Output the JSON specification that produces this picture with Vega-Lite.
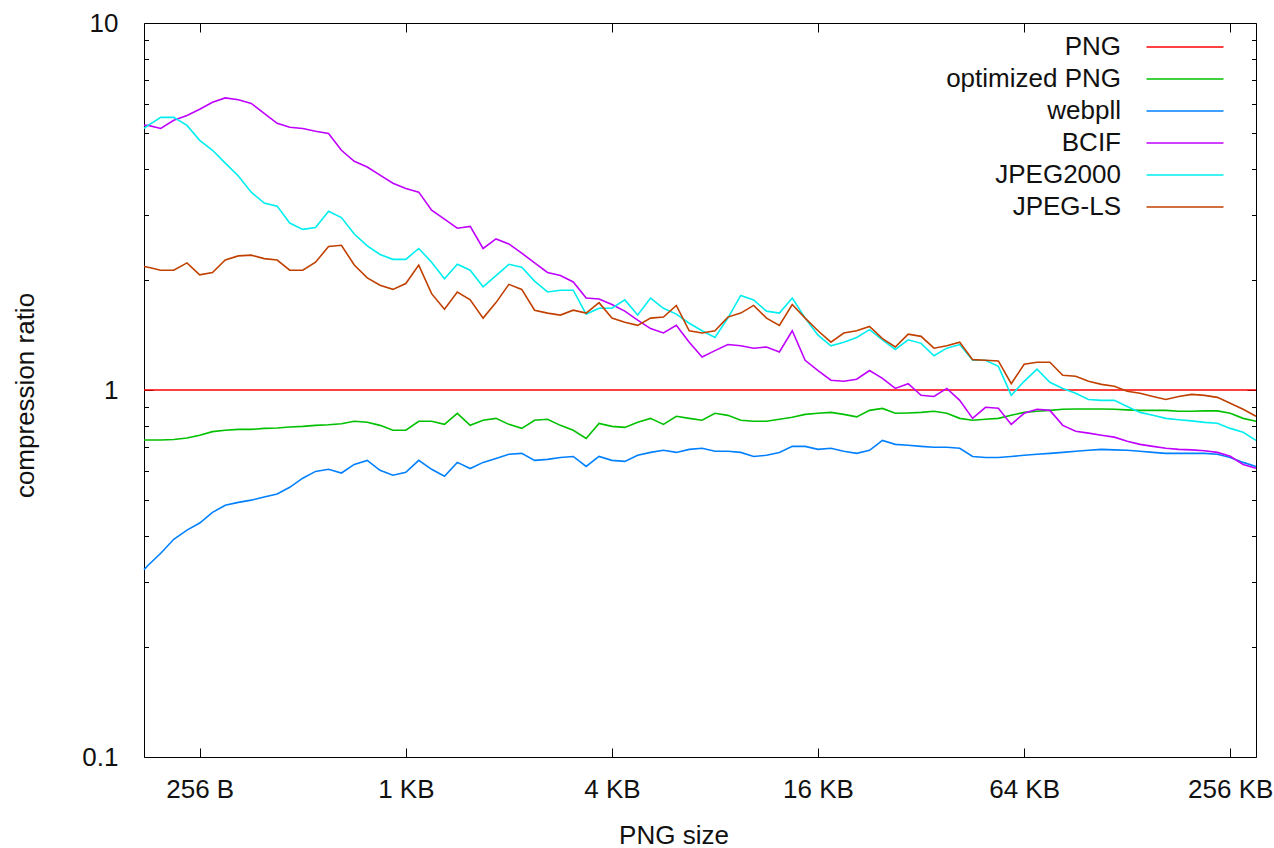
{
"$schema": "https://vega.github.io/schema/vega-lite/v6.json",
"width": 1112, "height": 734,
"autosize": {"type": "none"},
"padding": {"left": 144, "top": 23, "right": 18, "bottom": 91},
"background": "white",
"config": {
  "font": "Liberation Sans",
  "view": {"stroke": "#000", "strokeWidth": 1},
  "axis": {"grid": false, "domain": false, "tickColor": "#000", "tickWidth": 1, "labelFont": "Liberation Sans", "labelFontSize": 26, "labelColor": "#111", "titleFont": "Liberation Sans", "titleFontSize": 26, "titleFontWeight": "normal", "titleColor": "#111", "labelFlush": false, "labelOverlap": false}
},
"datasets": {
"pts": [
{"series":"PNG","size":176,"ratio":1},{"series":"PNG","size":311744,"ratio":1},
{"series":"optimized PNG","size":176,"ratio":0.731},{"series":"optimized PNG","size":181,"ratio":0.731},{"series":"optimized PNG","size":197,"ratio":0.731},{"series":"optimized PNG","size":215,"ratio":0.733},{"series":"optimized PNG","size":235,"ratio":0.740},
{"series":"optimized PNG","size":256,"ratio":0.753},{"series":"optimized PNG","size":279,"ratio":0.770},{"series":"optimized PNG","size":304,"ratio":0.777},{"series":"optimized PNG","size":332,"ratio":0.781},{"series":"optimized PNG","size":362,"ratio":0.781},{"series":"optimized PNG","size":395,"ratio":0.786},{"series":"optimized PNG","size":431,"ratio":0.788},{"series":"optimized PNG","size":469,"ratio":0.793},
{"series":"optimized PNG","size":512,"ratio":0.796},{"series":"optimized PNG","size":558,"ratio":0.801},{"series":"optimized PNG","size":609,"ratio":0.804},{"series":"optimized PNG","size":664,"ratio":0.809},{"series":"optimized PNG","size":724,"ratio":0.822},{"series":"optimized PNG","size":790,"ratio":0.817},{"series":"optimized PNG","size":861,"ratio":0.801},{"series":"optimized PNG","size":939,"ratio":0.777},
{"series":"optimized PNG","size":1024,"ratio":0.777},{"series":"optimized PNG","size":1117,"ratio":0.822},{"series":"optimized PNG","size":1218,"ratio":0.822},{"series":"optimized PNG","size":1328,"ratio":0.806},{"series":"optimized PNG","size":1448,"ratio":0.864},{"series":"optimized PNG","size":1579,"ratio":0.801},{"series":"optimized PNG","size":1722,"ratio":0.827},{"series":"optimized PNG","size":1878,"ratio":0.837},
{"series":"optimized PNG","size":2048,"ratio":0.806},{"series":"optimized PNG","size":2233,"ratio":0.786},{"series":"optimized PNG","size":2435,"ratio":0.827},{"series":"optimized PNG","size":2656,"ratio":0.832},{"series":"optimized PNG","size":2896,"ratio":0.801},{"series":"optimized PNG","size":3158,"ratio":0.777},{"series":"optimized PNG","size":3444,"ratio":0.738},{"series":"optimized PNG","size":3756,"ratio":0.811},
{"series":"optimized PNG","size":4096,"ratio":0.796},{"series":"optimized PNG","size":4467,"ratio":0.791},{"series":"optimized PNG","size":4871,"ratio":0.817},{"series":"optimized PNG","size":5312,"ratio":0.837},{"series":"optimized PNG","size":5793,"ratio":0.806},{"series":"optimized PNG","size":6317,"ratio":0.848},{"series":"optimized PNG","size":6889,"ratio":0.837},{"series":"optimized PNG","size":7512,"ratio":0.827},
{"series":"optimized PNG","size":8192,"ratio":0.864},{"series":"optimized PNG","size":8933,"ratio":0.853},{"series":"optimized PNG","size":9742,"ratio":0.827},{"series":"optimized PNG","size":10624,"ratio":0.822},{"series":"optimized PNG","size":11585,"ratio":0.822},{"series":"optimized PNG","size":12634,"ratio":0.832},{"series":"optimized PNG","size":13777,"ratio":0.843},{"series":"optimized PNG","size":15024,"ratio":0.858},
{"series":"optimized PNG","size":16384,"ratio":0.864},{"series":"optimized PNG","size":17867,"ratio":0.869},{"series":"optimized PNG","size":19484,"ratio":0.858},{"series":"optimized PNG","size":21247,"ratio":0.845},{"series":"optimized PNG","size":23170,"ratio":0.880},{"series":"optimized PNG","size":25268,"ratio":0.891},{"series":"optimized PNG","size":27554,"ratio":0.864},{"series":"optimized PNG","size":30048,"ratio":0.866},
{"series":"optimized PNG","size":32768,"ratio":0.869},{"series":"optimized PNG","size":35734,"ratio":0.875},{"series":"optimized PNG","size":38968,"ratio":0.864},{"series":"optimized PNG","size":42495,"ratio":0.837},{"series":"optimized PNG","size":46341,"ratio":0.827},{"series":"optimized PNG","size":50535,"ratio":0.832},{"series":"optimized PNG","size":55109,"ratio":0.837},{"series":"optimized PNG","size":60097,"ratio":0.853},
{"series":"optimized PNG","size":65536,"ratio":0.869},{"series":"optimized PNG","size":71468,"ratio":0.875},{"series":"optimized PNG","size":77936,"ratio":0.880},{"series":"optimized PNG","size":84990,"ratio":0.886},{"series":"optimized PNG","size":92682,"ratio":0.888},{"series":"optimized PNG","size":101070,"ratio":0.888},{"series":"optimized PNG","size":110218,"ratio":0.888},{"series":"optimized PNG","size":120194,"ratio":0.886},
{"series":"optimized PNG","size":131072,"ratio":0.883},{"series":"optimized PNG","size":142935,"ratio":0.880},{"series":"optimized PNG","size":155872,"ratio":0.880},{"series":"optimized PNG","size":169979,"ratio":0.880},{"series":"optimized PNG","size":185364,"ratio":0.875},{"series":"optimized PNG","size":202141,"ratio":0.875},{"series":"optimized PNG","size":220436,"ratio":0.877},{"series":"optimized PNG","size":240387,"ratio":0.877},
{"series":"optimized PNG","size":262144,"ratio":0.864},{"series":"optimized PNG","size":285870,"ratio":0.837},{"series":"optimized PNG","size":311744,"ratio":0.822},
{"series":"webpll","size":176,"ratio":0.324},{"series":"webpll","size":181,"ratio":0.333},{"series":"webpll","size":197,"ratio":0.359},{"series":"webpll","size":215,"ratio":0.392},{"series":"webpll","size":235,"ratio":0.415},
{"series":"webpll","size":256,"ratio":0.434},{"series":"webpll","size":279,"ratio":0.464},{"series":"webpll","size":304,"ratio":0.485},{"series":"webpll","size":332,"ratio":0.494},{"series":"webpll","size":362,"ratio":0.501},{"series":"webpll","size":395,"ratio":0.511},{"series":"webpll","size":431,"ratio":0.521},{"series":"webpll","size":469,"ratio":0.543},
{"series":"webpll","size":512,"ratio":0.575},{"series":"webpll","size":558,"ratio":0.600},{"series":"webpll","size":609,"ratio":0.608},{"series":"webpll","size":664,"ratio":0.594},{"series":"webpll","size":724,"ratio":0.627},{"series":"webpll","size":790,"ratio":0.643},{"series":"webpll","size":861,"ratio":0.604},{"series":"webpll","size":939,"ratio":0.586},
{"series":"webpll","size":1024,"ratio":0.597},{"series":"webpll","size":1117,"ratio":0.643},{"series":"webpll","size":1218,"ratio":0.608},{"series":"webpll","size":1328,"ratio":0.582},{"series":"webpll","size":1448,"ratio":0.635},{"series":"webpll","size":1579,"ratio":0.611},{"series":"webpll","size":1722,"ratio":0.635},{"series":"webpll","size":1878,"ratio":0.651},
{"series":"webpll","size":2048,"ratio":0.668},{"series":"webpll","size":2233,"ratio":0.672},{"series":"webpll","size":2435,"ratio":0.643},{"series":"webpll","size":2656,"ratio":0.647},{"series":"webpll","size":2896,"ratio":0.655},{"series":"webpll","size":3158,"ratio":0.659},{"series":"webpll","size":3444,"ratio":0.619},{"series":"webpll","size":3756,"ratio":0.659},
{"series":"webpll","size":4096,"ratio":0.643},{"series":"webpll","size":4467,"ratio":0.639},{"series":"webpll","size":4871,"ratio":0.664},{"series":"webpll","size":5312,"ratio":0.676},{"series":"webpll","size":5793,"ratio":0.685},{"series":"webpll","size":6317,"ratio":0.676},{"series":"webpll","size":6889,"ratio":0.689},{"series":"webpll","size":7512,"ratio":0.694},
{"series":"webpll","size":8192,"ratio":0.681},{"series":"webpll","size":8933,"ratio":0.681},{"series":"webpll","size":9742,"ratio":0.676},{"series":"webpll","size":10624,"ratio":0.659},{"series":"webpll","size":11585,"ratio":0.664},{"series":"webpll","size":12634,"ratio":0.676},{"series":"webpll","size":13777,"ratio":0.702},{"series":"webpll","size":15024,"ratio":0.702},
{"series":"webpll","size":16384,"ratio":0.689},{"series":"webpll","size":17867,"ratio":0.694},{"series":"webpll","size":19484,"ratio":0.681},{"series":"webpll","size":21247,"ratio":0.672},{"series":"webpll","size":23170,"ratio":0.685},{"series":"webpll","size":25268,"ratio":0.729},{"series":"webpll","size":27554,"ratio":0.711},{"series":"webpll","size":30048,"ratio":0.707},
{"series":"webpll","size":32768,"ratio":0.702},{"series":"webpll","size":35734,"ratio":0.698},{"series":"webpll","size":38968,"ratio":0.698},{"series":"webpll","size":42495,"ratio":0.694},{"series":"webpll","size":46341,"ratio":0.659},{"series":"webpll","size":50535,"ratio":0.655},{"series":"webpll","size":55109,"ratio":0.655},{"series":"webpll","size":60097,"ratio":0.659},
{"series":"webpll","size":65536,"ratio":0.664},{"series":"webpll","size":71468,"ratio":0.668},{"series":"webpll","size":77936,"ratio":0.672},{"series":"webpll","size":84990,"ratio":0.676},{"series":"webpll","size":92682,"ratio":0.681},{"series":"webpll","size":101070,"ratio":0.685},{"series":"webpll","size":110218,"ratio":0.689},{"series":"webpll","size":120194,"ratio":0.687},
{"series":"webpll","size":131072,"ratio":0.685},{"series":"webpll","size":142935,"ratio":0.681},{"series":"webpll","size":155872,"ratio":0.676},{"series":"webpll","size":169979,"ratio":0.672},{"series":"webpll","size":185364,"ratio":0.672},{"series":"webpll","size":202141,"ratio":0.672},{"series":"webpll","size":220436,"ratio":0.672},{"series":"webpll","size":240387,"ratio":0.668},
{"series":"webpll","size":262144,"ratio":0.655},{"series":"webpll","size":285870,"ratio":0.635},{"series":"webpll","size":311744,"ratio":0.619},
{"series":"BCIF","size":176,"ratio":5.26},{"series":"BCIF","size":181,"ratio":5.26},{"series":"BCIF","size":197,"ratio":5.16},{"series":"BCIF","size":215,"ratio":5.43},{"series":"BCIF","size":235,"ratio":5.60},
{"series":"BCIF","size":256,"ratio":5.82},{"series":"BCIF","size":279,"ratio":6.08},{"series":"BCIF","size":304,"ratio":6.25},{"series":"BCIF","size":332,"ratio":6.18},{"series":"BCIF","size":362,"ratio":6.04},{"series":"BCIF","size":395,"ratio":5.67},{"series":"BCIF","size":431,"ratio":5.33},{"series":"BCIF","size":469,"ratio":5.20},
{"series":"BCIF","size":512,"ratio":5.16},{"series":"BCIF","size":558,"ratio":5.07},{"series":"BCIF","size":609,"ratio":5.00},{"series":"BCIF","size":664,"ratio":4.50},{"series":"BCIF","size":724,"ratio":4.20},{"series":"BCIF","size":790,"ratio":4.05},{"series":"BCIF","size":861,"ratio":3.85},{"series":"BCIF","size":939,"ratio":3.66},
{"series":"BCIF","size":1024,"ratio":3.54},{"series":"BCIF","size":1117,"ratio":3.46},{"series":"BCIF","size":1218,"ratio":3.09},{"series":"BCIF","size":1328,"ratio":2.92},{"series":"BCIF","size":1448,"ratio":2.76},{"series":"BCIF","size":1579,"ratio":2.79},{"series":"BCIF","size":1722,"ratio":2.43},{"series":"BCIF","size":1878,"ratio":2.58},
{"series":"BCIF","size":2048,"ratio":2.50},{"series":"BCIF","size":2233,"ratio":2.36},{"series":"BCIF","size":2435,"ratio":2.22},{"series":"BCIF","size":2656,"ratio":2.09},{"series":"BCIF","size":2896,"ratio":2.05},{"series":"BCIF","size":3158,"ratio":1.97},{"series":"BCIF","size":3444,"ratio":1.78},{"series":"BCIF","size":3756,"ratio":1.77},
{"series":"BCIF","size":4096,"ratio":1.71},{"series":"BCIF","size":4467,"ratio":1.64},{"series":"BCIF","size":4871,"ratio":1.55},{"series":"BCIF","size":5312,"ratio":1.47},{"series":"BCIF","size":5793,"ratio":1.43},{"series":"BCIF","size":6317,"ratio":1.50},{"series":"BCIF","size":6889,"ratio":1.35},{"series":"BCIF","size":7512,"ratio":1.23},
{"series":"BCIF","size":8192,"ratio":1.28},{"series":"BCIF","size":8933,"ratio":1.33},{"series":"BCIF","size":9742,"ratio":1.32},{"series":"BCIF","size":10624,"ratio":1.30},{"series":"BCIF","size":11585,"ratio":1.31},{"series":"BCIF","size":12634,"ratio":1.27},{"series":"BCIF","size":13777,"ratio":1.45},{"series":"BCIF","size":15024,"ratio":1.205},
{"series":"BCIF","size":16384,"ratio":1.13},{"series":"BCIF","size":17867,"ratio":1.063},{"series":"BCIF","size":19484,"ratio":1.056},{"series":"BCIF","size":21247,"ratio":1.07},{"series":"BCIF","size":23170,"ratio":1.13},{"series":"BCIF","size":25268,"ratio":1.076},{"series":"BCIF","size":27554,"ratio":1.01},{"series":"BCIF","size":30048,"ratio":1.04},
{"series":"BCIF","size":32768,"ratio":0.967},{"series":"BCIF","size":35734,"ratio":0.96},{"series":"BCIF","size":38968,"ratio":1.01},{"series":"BCIF","size":42495,"ratio":0.937},{"series":"BCIF","size":46341,"ratio":0.837},{"series":"BCIF","size":50535,"ratio":0.897},{"series":"BCIF","size":55109,"ratio":0.892},{"series":"BCIF","size":60097,"ratio":0.806},
{"series":"BCIF","size":65536,"ratio":0.864},{"series":"BCIF","size":71468,"ratio":0.886},{"series":"BCIF","size":77936,"ratio":0.880},{"series":"BCIF","size":84990,"ratio":0.801},{"series":"BCIF","size":92682,"ratio":0.772},{"series":"BCIF","size":101070,"ratio":0.763},{"series":"BCIF","size":110218,"ratio":0.753},{"series":"BCIF","size":120194,"ratio":0.744},
{"series":"BCIF","size":131072,"ratio":0.725},{"series":"BCIF","size":142935,"ratio":0.711},{"series":"BCIF","size":155872,"ratio":0.702},{"series":"BCIF","size":169979,"ratio":0.694},{"series":"BCIF","size":185364,"ratio":0.689},{"series":"BCIF","size":202141,"ratio":0.687},{"series":"BCIF","size":220436,"ratio":0.683},{"series":"BCIF","size":240387,"ratio":0.676},
{"series":"BCIF","size":262144,"ratio":0.66},{"series":"BCIF","size":285870,"ratio":0.627},{"series":"BCIF","size":311744,"ratio":0.612},
{"series":"JPEG2000","size":176,"ratio":5.16},{"series":"JPEG2000","size":181,"ratio":5.26},{"series":"JPEG2000","size":197,"ratio":5.53},{"series":"JPEG2000","size":215,"ratio":5.53},{"series":"JPEG2000","size":235,"ratio":5.26},
{"series":"JPEG2000","size":256,"ratio":4.79},{"series":"JPEG2000","size":279,"ratio":4.50},{"series":"JPEG2000","size":304,"ratio":4.15},{"series":"JPEG2000","size":332,"ratio":3.83},{"series":"JPEG2000","size":362,"ratio":3.46},{"series":"JPEG2000","size":395,"ratio":3.23},{"series":"JPEG2000","size":431,"ratio":3.17},{"series":"JPEG2000","size":469,"ratio":2.85},
{"series":"JPEG2000","size":512,"ratio":2.74},{"series":"JPEG2000","size":558,"ratio":2.77},{"series":"JPEG2000","size":609,"ratio":3.07},{"series":"JPEG2000","size":664,"ratio":2.95},{"series":"JPEG2000","size":724,"ratio":2.66},{"series":"JPEG2000","size":790,"ratio":2.47},{"series":"JPEG2000","size":861,"ratio":2.34},{"series":"JPEG2000","size":939,"ratio":2.27},
{"series":"JPEG2000","size":1024,"ratio":2.27},{"series":"JPEG2000","size":1117,"ratio":2.43},{"series":"JPEG2000","size":1218,"ratio":2.23},{"series":"JPEG2000","size":1328,"ratio":2.01},{"series":"JPEG2000","size":1448,"ratio":2.20},{"series":"JPEG2000","size":1579,"ratio":2.12},{"series":"JPEG2000","size":1722,"ratio":1.91},{"series":"JPEG2000","size":1878,"ratio":2.05},
{"series":"JPEG2000","size":2048,"ratio":2.20},{"series":"JPEG2000","size":2233,"ratio":2.16},{"series":"JPEG2000","size":2435,"ratio":1.98},{"series":"JPEG2000","size":2656,"ratio":1.85},{"series":"JPEG2000","size":2896,"ratio":1.87},{"series":"JPEG2000","size":3158,"ratio":1.87},{"series":"JPEG2000","size":3444,"ratio":1.61},{"series":"JPEG2000","size":3756,"ratio":1.67},
{"series":"JPEG2000","size":4096,"ratio":1.67},{"series":"JPEG2000","size":4467,"ratio":1.76},{"series":"JPEG2000","size":4871,"ratio":1.60},{"series":"JPEG2000","size":5312,"ratio":1.78},{"series":"JPEG2000","size":5793,"ratio":1.67},{"series":"JPEG2000","size":6317,"ratio":1.61},{"series":"JPEG2000","size":6889,"ratio":1.52},{"series":"JPEG2000","size":7512,"ratio":1.45},
{"series":"JPEG2000","size":8192,"ratio":1.39},{"series":"JPEG2000","size":8933,"ratio":1.57},{"series":"JPEG2000","size":9742,"ratio":1.81},{"series":"JPEG2000","size":10624,"ratio":1.76},{"series":"JPEG2000","size":11585,"ratio":1.64},{"series":"JPEG2000","size":12634,"ratio":1.62},{"series":"JPEG2000","size":13777,"ratio":1.78},{"series":"JPEG2000","size":15024,"ratio":1.57},
{"series":"JPEG2000","size":16384,"ratio":1.41},{"series":"JPEG2000","size":17867,"ratio":1.32},{"series":"JPEG2000","size":19484,"ratio":1.35},{"series":"JPEG2000","size":21247,"ratio":1.39},{"series":"JPEG2000","size":23170,"ratio":1.46},{"series":"JPEG2000","size":25268,"ratio":1.37},{"series":"JPEG2000","size":27554,"ratio":1.29},{"series":"JPEG2000","size":30048,"ratio":1.37},
{"series":"JPEG2000","size":32768,"ratio":1.34},{"series":"JPEG2000","size":35734,"ratio":1.24},{"series":"JPEG2000","size":38968,"ratio":1.30},{"series":"JPEG2000","size":42495,"ratio":1.33},{"series":"JPEG2000","size":46341,"ratio":1.205},{"series":"JPEG2000","size":50535,"ratio":1.205},{"series":"JPEG2000","size":55109,"ratio":1.16},{"series":"JPEG2000","size":60097,"ratio":0.967},
{"series":"JPEG2000","size":65536,"ratio":1.056},{"series":"JPEG2000","size":71468,"ratio":1.14},{"series":"JPEG2000","size":77936,"ratio":1.05},{"series":"JPEG2000","size":84990,"ratio":1.01},{"series":"JPEG2000","size":92682,"ratio":0.98},{"series":"JPEG2000","size":101070,"ratio":0.942},{"series":"JPEG2000","size":110218,"ratio":0.937},{"series":"JPEG2000","size":120194,"ratio":0.937},
{"series":"JPEG2000","size":131072,"ratio":0.902},{"series":"JPEG2000","size":142935,"ratio":0.869},{"series":"JPEG2000","size":155872,"ratio":0.853},{"series":"JPEG2000","size":169979,"ratio":0.837},{"series":"JPEG2000","size":185364,"ratio":0.830},{"series":"JPEG2000","size":202141,"ratio":0.824},{"series":"JPEG2000","size":220436,"ratio":0.816},{"series":"JPEG2000","size":240387,"ratio":0.812},
{"series":"JPEG2000","size":262144,"ratio":0.786},{"series":"JPEG2000","size":285870,"ratio":0.767},{"series":"JPEG2000","size":311744,"ratio":0.729},
{"series":"JPEG-LS","size":176,"ratio":2.17},{"series":"JPEG-LS","size":181,"ratio":2.16},{"series":"JPEG-LS","size":197,"ratio":2.12},{"series":"JPEG-LS","size":215,"ratio":2.12},{"series":"JPEG-LS","size":235,"ratio":2.22},
{"series":"JPEG-LS","size":256,"ratio":2.06},{"series":"JPEG-LS","size":279,"ratio":2.09},{"series":"JPEG-LS","size":304,"ratio":2.26},{"series":"JPEG-LS","size":332,"ratio":2.32},{"series":"JPEG-LS","size":362,"ratio":2.33},{"series":"JPEG-LS","size":395,"ratio":2.28},{"series":"JPEG-LS","size":431,"ratio":2.26},{"series":"JPEG-LS","size":469,"ratio":2.12},
{"series":"JPEG-LS","size":512,"ratio":2.12},{"series":"JPEG-LS","size":558,"ratio":2.23},{"series":"JPEG-LS","size":609,"ratio":2.46},{"series":"JPEG-LS","size":664,"ratio":2.48},{"series":"JPEG-LS","size":724,"ratio":2.19},{"series":"JPEG-LS","size":790,"ratio":2.02},{"series":"JPEG-LS","size":861,"ratio":1.93},{"series":"JPEG-LS","size":939,"ratio":1.88},
{"series":"JPEG-LS","size":1024,"ratio":1.95},{"series":"JPEG-LS","size":1117,"ratio":2.19},{"series":"JPEG-LS","size":1218,"ratio":1.83},{"series":"JPEG-LS","size":1328,"ratio":1.66},{"series":"JPEG-LS","size":1448,"ratio":1.85},{"series":"JPEG-LS","size":1579,"ratio":1.76},{"series":"JPEG-LS","size":1722,"ratio":1.57},{"series":"JPEG-LS","size":1878,"ratio":1.73},
{"series":"JPEG-LS","size":2048,"ratio":1.94},{"series":"JPEG-LS","size":2233,"ratio":1.88},{"series":"JPEG-LS","size":2435,"ratio":1.65},{"series":"JPEG-LS","size":2656,"ratio":1.62},{"series":"JPEG-LS","size":2896,"ratio":1.60},{"series":"JPEG-LS","size":3158,"ratio":1.65},{"series":"JPEG-LS","size":3444,"ratio":1.62},{"series":"JPEG-LS","size":3756,"ratio":1.73},
{"series":"JPEG-LS","size":4096,"ratio":1.57},{"series":"JPEG-LS","size":4467,"ratio":1.53},{"series":"JPEG-LS","size":4871,"ratio":1.50},{"series":"JPEG-LS","size":5312,"ratio":1.57},{"series":"JPEG-LS","size":5793,"ratio":1.58},{"series":"JPEG-LS","size":6317,"ratio":1.70},{"series":"JPEG-LS","size":6889,"ratio":1.45},{"series":"JPEG-LS","size":7512,"ratio":1.43},
{"series":"JPEG-LS","size":8192,"ratio":1.45},{"series":"JPEG-LS","size":8933,"ratio":1.58},{"series":"JPEG-LS","size":9742,"ratio":1.62},{"series":"JPEG-LS","size":10624,"ratio":1.70},{"series":"JPEG-LS","size":11585,"ratio":1.57},{"series":"JPEG-LS","size":12634,"ratio":1.50},{"series":"JPEG-LS","size":13777,"ratio":1.71},{"series":"JPEG-LS","size":15024,"ratio":1.57},
{"series":"JPEG-LS","size":16384,"ratio":1.45},{"series":"JPEG-LS","size":17867,"ratio":1.35},{"series":"JPEG-LS","size":19484,"ratio":1.43},{"series":"JPEG-LS","size":21247,"ratio":1.45},{"series":"JPEG-LS","size":23170,"ratio":1.49},{"series":"JPEG-LS","size":25268,"ratio":1.38},{"series":"JPEG-LS","size":27554,"ratio":1.31},{"series":"JPEG-LS","size":30048,"ratio":1.42},
{"series":"JPEG-LS","size":32768,"ratio":1.40},{"series":"JPEG-LS","size":35734,"ratio":1.30},{"series":"JPEG-LS","size":38968,"ratio":1.32},{"series":"JPEG-LS","size":42495,"ratio":1.35},{"series":"JPEG-LS","size":46341,"ratio":1.21},{"series":"JPEG-LS","size":50535,"ratio":1.205},{"series":"JPEG-LS","size":55109,"ratio":1.20},{"series":"JPEG-LS","size":60097,"ratio":1.04},
{"series":"JPEG-LS","size":65536,"ratio":1.175},{"series":"JPEG-LS","size":71468,"ratio":1.19},{"series":"JPEG-LS","size":77936,"ratio":1.19},{"series":"JPEG-LS","size":84990,"ratio":1.097},{"series":"JPEG-LS","size":92682,"ratio":1.09},{"series":"JPEG-LS","size":101070,"ratio":1.056},{"series":"JPEG-LS","size":110218,"ratio":1.036},{"series":"JPEG-LS","size":120194,"ratio":1.024},
{"series":"JPEG-LS","size":131072,"ratio":0.992},{"series":"JPEG-LS","size":142935,"ratio":0.98},{"series":"JPEG-LS","size":155872,"ratio":0.96},{"series":"JPEG-LS","size":169979,"ratio":0.942},{"series":"JPEG-LS","size":185364,"ratio":0.96},{"series":"JPEG-LS","size":202141,"ratio":0.973},{"series":"JPEG-LS","size":220436,"ratio":0.967},{"series":"JPEG-LS","size":240387,"ratio":0.955},
{"series":"JPEG-LS","size":262144,"ratio":0.92},{"series":"JPEG-LS","size":285870,"ratio":0.886},{"series":"JPEG-LS","size":311744,"ratio":0.848}
]
},
"data": {"name": "pts"},
"layer": [
  {
    "mark": {"type": "line", "strokeWidth": 1.6},
    "encoding": {
      "x": {"field": "size", "type": "quantitative",
        "scale": {"type": "log", "base": 2, "domain": [176, 311744], "nice": false},
        "axis": {"orient": "bottom", "values": [256, 1024, 4096, 16384, 65536, 262144], "tickSize": -9, "labelPadding": 49, "labelBaseline": "alphabetic",
          "labelExpr": "datum.value >= 1024 ? (datum.value / 1024) + ' KB' : datum.value + ' B'",
          "title": "PNG size", "titleX": 529.5, "titleY": 86, "titleBaseline": "alphabetic", "titleAlign": "center"}},
      "y": {"field": "ratio", "type": "quantitative",
        "scale": {"type": "log", "domain": [0.1, 10], "nice": false},
        "axis": {"orient": "left", "values": [0.1, 1, 10], "tickSize": -9, "labelPadding": 35, "format": "~g", "labelBaseline": "middle",
          "title": "compression ratio", "titleX": -111, "titleY": 372, "titleAngle": 270, "titleBaseline": "alphabetic", "titleAlign": "center"}},
      "color": {"field": "series", "type": "nominal",
        "scale": {"domain": ["PNG", "optimized PNG", "webpll", "BCIF", "JPEG2000", "JPEG-LS"], "range": ["#ff0000", "#00c000", "#0080ff", "#c000ff", "#00eeee", "#c04000"]},
        "legend": {"title": null, "orient": "none", "legendX": 1028, "legendY": 11, "direction": "vertical", "padding": 0,
          "symbolType": "M-8,0H8", "symbolSize": 92.6, "symbolStrokeWidth": 1.5,
          "labelAlign": "right", "labelOffset": -77, "labelFontSize": 26, "labelFont": "Liberation Sans", "labelColor": "#111", "labelLimit": 400, "rowPadding": 6}}
    }
  },
  {
    "transform": [{"filter": "datum.series == 'PNG'"}],
    "mark": {"type": "line", "opacity": 0},
    "encoding": {
      "x": {"field": "size", "type": "quantitative", "scale": {"type": "log", "base": 2, "domain": [176, 311744], "nice": false},
        "axis": {"orient": "top", "values": [256, 1024, 4096, 16384, 65536, 262144], "tickSize": -9, "labels": false, "title": null}},
      "y": {"field": "ratio", "type": "quantitative", "scale": {"type": "log", "domain": [0.1, 10], "nice": false},
        "axis": {"orient": "right", "values": [0.1, 1, 10], "tickSize": -9, "labels": false, "title": null}}
    }
  },
  {
    "transform": [{"filter": "datum.series == 'PNG'"}],
    "mark": {"type": "line", "opacity": 0},
    "encoding": {
      "x": {"field": "size", "type": "quantitative", "scale": {"type": "log", "base": 2, "domain": [176, 311744], "nice": false}, "axis": null},
      "y": {"field": "ratio", "type": "quantitative", "scale": {"type": "log", "domain": [0.1, 10], "nice": false},
        "axis": {"orient": "left", "values": [0.2, 0.3, 0.4, 0.5, 0.6, 0.7, 0.8, 0.9, 2, 3, 4, 5, 6, 7, 8, 9], "tickSize": -4.5, "labels": false, "title": null}}
    }
  },
  {
    "transform": [{"filter": "datum.series == 'PNG'"}],
    "mark": {"type": "line", "opacity": 0},
    "encoding": {
      "x": {"field": "size", "type": "quantitative", "scale": {"type": "log", "base": 2, "domain": [176, 311744], "nice": false}, "axis": null},
      "y": {"field": "ratio", "type": "quantitative", "scale": {"type": "log", "domain": [0.1, 10], "nice": false},
        "axis": {"orient": "right", "values": [0.2, 0.3, 0.4, 0.5, 0.6, 0.7, 0.8, 0.9, 2, 3, 4, 5, 6, 7, 8, 9], "tickSize": -4.5, "labels": false, "title": null}}
    }
  }
],
"resolve": {"axis": {"x": "independent", "y": "independent"}}
}
